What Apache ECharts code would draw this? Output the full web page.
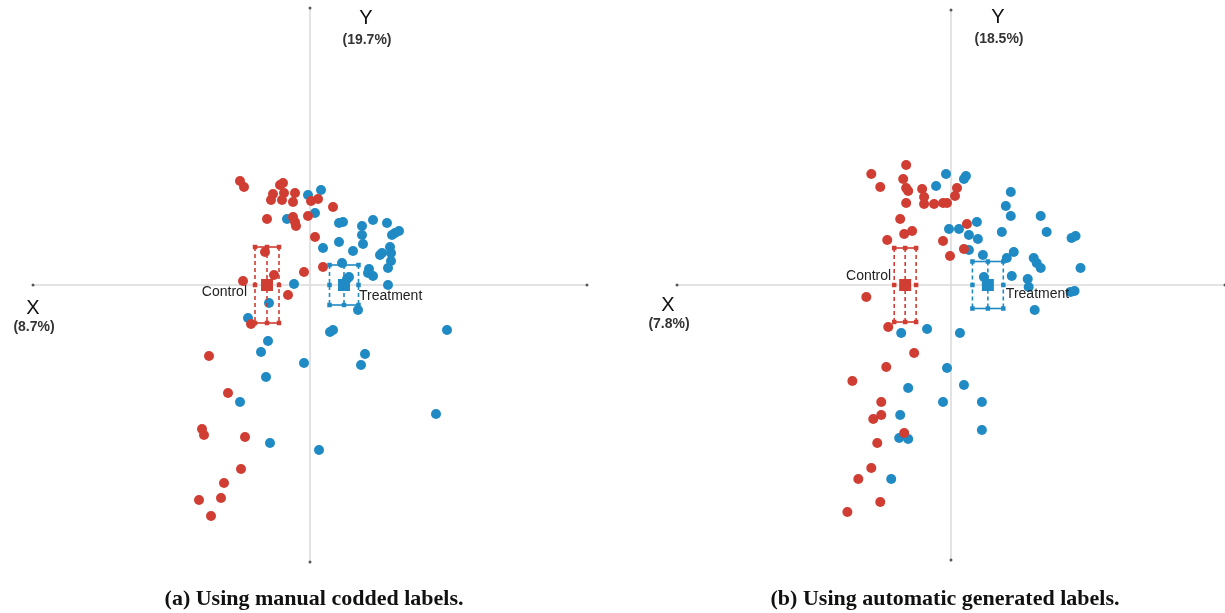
<!DOCTYPE html>
<html>
<head>
<meta charset="utf-8">
<script src="https://cdn.jsdelivr.net/npm/echarts@6/dist/echarts.min.js"></script>
<style>
html,body{margin:0;padding:0;background:#fff;}
#chart{width:1225px;height:613px;}
</style>
</head>
<body>
<div id="chart"></div>
<script>
// ---- Data (component scores) ----
const groupNames = ['Control', 'Treatment'];

// Panel (a): manual coded labels
const controlA = [
  [-0.70,1.04],[-0.66,0.98],[-0.30,1.00],[-0.37,0.91],[-0.26,0.92],[-0.15,0.92],
  [-0.39,0.85],[-0.28,0.85],[-0.17,0.83],[0.01,0.84],[0.08,0.86],[0.23,0.78],
  [-0.43,0.66],[-0.17,0.68],[-0.15,0.63],[-0.14,0.59],[-0.02,0.69],[0.05,0.48],
  [-0.45,0.33],[0.13,0.18],[-0.06,0.13],[-0.36,0.10],[-0.67,0.04],[-0.22,-0.10],
  [-0.59,-0.39],[-1.01,-0.71],[-0.82,-1.08],[-1.08,-1.44],[-1.06,-1.50],[-0.65,-1.52],
  [-0.69,-1.84],[-0.86,-1.98],[-1.11,-2.15],[-0.89,-2.13],[-0.99,-2.31],[-0.27,1.02]
];
const treatmentA = [
  [-0.02,0.90],[0.11,0.95],[0.05,0.72],[-0.23,0.66],[0.29,0.62],[0.33,0.63],
  [0.52,0.59],[0.63,0.65],[0.77,0.62],[0.52,0.50],[0.53,0.41],[0.82,0.50],
  [0.85,0.52],[0.89,0.54],[0.13,0.37],[0.29,0.43],[0.43,0.34],[0.70,0.30],
  [0.72,0.32],[0.80,0.38],[0.81,0.32],[0.81,0.24],[0.78,0.17],[0.32,0.22],
  [0.59,0.16],[0.58,0.12],[0.63,0.09],[0.37,0.06],[0.39,0.08],[0.78,0.00],
  [-0.16,0.01],[-0.41,-0.18],[-0.62,-0.33],[0.48,-0.25],[0.20,-0.47],[0.23,-0.45],
  [1.37,-0.45],[-0.42,-0.56],[-0.49,-0.67],[-0.06,-0.78],[-0.44,-0.92],[0.55,-0.69],
  [0.51,-0.80],[-0.70,-1.17],[1.26,-1.29],[-0.40,-1.58],[0.09,-1.65]
];
// centroid [x, y, halfWidthX, halfWidthY]
const centroidsA = [[-0.43, 0.00, 0.12, 0.38], [0.34, 0.00, 0.145, 0.20]];
const axisNamesA = ['X', '(8.7%)', 'Y', '(19.7%)'];

// Panel (b): automatic generated labels
const controlB = [
  [-0.45,1.20],[-0.80,1.11],[-0.71,0.98],[-0.48,1.06],[-0.45,0.97],[-0.43,0.94],
  [-0.29,0.96],[-0.27,0.88],[-0.45,0.82],[-0.27,0.81],[-0.17,0.81],[-0.08,0.82],
  [-0.04,0.82],[0.04,0.89],[0.06,0.97],[-0.51,0.66],[-0.39,0.54],[-0.47,0.51],
  [-0.64,0.45],[-0.08,0.44],[0.16,0.61],[0.13,0.36],[-0.01,0.29],[-0.85,-0.12],
  [-0.63,-0.42],[-0.37,-0.68],[-0.65,-0.82],[-0.99,-0.96],[-0.70,-1.17],[-0.70,-1.30],
  [-0.78,-1.34],[-0.47,-1.48],[-0.74,-1.58],[-0.80,-1.83],[-0.93,-1.94],[-0.71,-2.17],
  [-1.04,-2.27]
];
const treatmentB = [
  [-0.05,1.11],[-0.15,0.99],[0.13,1.06],[0.15,1.09],[0.60,0.93],[0.55,0.79],
  [0.60,0.69],[0.90,0.69],[0.96,0.53],[1.21,0.47],[1.25,0.49],[0.26,0.63],
  [-0.02,0.56],[0.08,0.56],[0.18,0.50],[0.27,0.46],[0.51,0.53],[0.18,0.35],
  [0.32,0.30],[0.63,0.33],[0.56,0.27],[0.83,0.27],[0.86,0.22],[0.90,0.17],
  [1.30,0.17],[0.61,0.09],[0.77,0.06],[0.78,-0.02],[0.33,0.08],[1.20,-0.07],
  [1.24,-0.06],[0.84,-0.25],[-0.50,-0.48],[-0.24,-0.44],[0.09,-0.48],[-0.04,-0.83],
  [0.13,-1.00],[-0.43,-1.03],[-0.08,-1.17],[0.31,-1.17],[-0.51,-1.30],[0.31,-1.45],
  [-0.52,-1.53],[-0.43,-1.54],[-0.60,-1.94]
];
const centroidsB = [[-0.46, 0.00, 0.11, 0.37], [0.37, 0.00, 0.155, 0.235]];
const axisNamesB = ['X', '(7.8%)', 'Y', '(18.5%)'];

const captions = ['(a) Using manual codded labels.', '(b) Using automatic generated labels.'];

// ---- Styling ----
const RED = '#d03d33';
const BLUE = '#1f8ac3';
const EXT_A = 2.77, EXT_B = 2.75;

function axisEnds(ext) {
  return [[-ext, 0], [ext, 0], [0, -ext], [0, ext]];
}

function makeAxis(gridIndex, ext) {
  return {
    type: 'value', gridIndex: gridIndex, min: -ext, max: ext,
    axisLine: { show: true, onZero: true, lineStyle: { color: '#dadada', width: 1.5 } },
    axisTick: { show: false }, axisLabel: { show: false }, splitLine: { show: false }
  };
}

// label offsets per group for each panel (styling, not data)
const labelCfgA = [{ align: 'right', dx: -20, dy: 7 }, { align: 'left', dx: 15, dy: 11 }];
const labelCfgB = [{ align: 'right', dx: -14, dy: -9 }, { align: 'left', dx: 18, dy: 9 }];
const colors = [RED, BLUE];

function glyphSeries(xi, data, labelCfg) {
  return {
    type: 'custom', xAxisIndex: xi, yAxisIndex: xi, z: 5, silent: true, clip: false,
    data: data,
    renderItem: function (params, api) {
      const i = params.dataIndex;
      const col = colors[i];
      const x = api.value(0), y = api.value(1), hx = api.value(2), hy = api.value(3);
      const c = api.coord([x, y]);
      const l = api.coord([x - hx, y])[0], r = api.coord([x + hx, y])[0];
      const t = api.coord([x, y + hy])[1], b = api.coord([x, y - hy])[1];
      const dash = { stroke: col, lineWidth: 1.6, lineDash: [4, 3] };
      const solid = { stroke: col, lineWidth: 1.6 };
      const ch = [];
      ch.push({ type: 'line', shape: { x1: l, y1: t, x2: l, y2: b }, style: dash });
      ch.push({ type: 'line', shape: { x1: r, y1: t, x2: r, y2: b }, style: dash });
      ch.push({ type: 'line', shape: { x1: c[0], y1: t, x2: c[0], y2: b }, style: dash });
      ch.push({ type: 'line', shape: { x1: l, y1: t, x2: r, y2: t }, style: solid });
      ch.push({ type: 'line', shape: { x1: l, y1: b, x2: r, y2: b }, style: solid });
      const s = 4.5;
      [[l, t], [c[0], t], [r, t], [l, c[1]], [r, c[1]], [l, b], [c[0], b], [r, b]].forEach(function (p) {
        ch.push({ type: 'rect', shape: { x: p[0] - s / 2, y: p[1] - s / 2, width: s, height: s }, style: { fill: col } });
      });
      const S = 12;
      ch.push({ type: 'rect', shape: { x: c[0] - S / 2, y: c[1] - S / 2, width: S, height: S }, style: { fill: col } });
      const lc = labelCfg[i];
      ch.push({
        type: 'text', x: c[0] + lc.dx, y: c[1] + lc.dy,
        style: { text: groupNames[i], fill: '#222', font: '14px "Liberation Sans", Arial, sans-serif', align: lc.align, verticalAlign: 'middle' }
      });
      return { type: 'group', children: ch };
    }
  };
}

function pointSeries(xi, data, color, name) {
  return {
    type: 'scatter', name: name, xAxisIndex: xi, yAxisIndex: xi, data: data,
    symbol: 'circle', symbolSize: 10, itemStyle: { color: color, opacity: 1 }, silent: true, z: 3
  };
}

function endSeries(xi, ext) {
  return {
    type: 'scatter', xAxisIndex: xi, yAxisIndex: xi, data: axisEnds(ext), clip: false,
    symbol: 'circle', symbolSize: 3, itemStyle: { color: '#333' }, silent: true, z: 2
  };
}

const nameFont = '"Liberation Sans", Arial, sans-serif';
function axisNameGraphics(names, yPos, xPos) {
  return [
    { type: 'text', x: xPos[0], y: xPos[1], style: { text: names[0], font: '20px ' + nameFont, fill: '#111', align: 'center', verticalAlign: 'middle' } },
    { type: 'text', x: xPos[0] + 1, y: xPos[1] + 19, style: { text: names[1], font: 'bold 14px ' + nameFont, fill: '#333', align: 'center', verticalAlign: 'middle' } },
    { type: 'text', x: yPos[0], y: yPos[1], style: { text: names[2], font: '20px ' + nameFont, fill: '#111', align: 'center', verticalAlign: 'middle' } },
    { type: 'text', x: yPos[0] + 1, y: yPos[1] + 22, style: { text: names[3], font: 'bold 14px ' + nameFont, fill: '#333', align: 'center', verticalAlign: 'middle' } }
  ];
}

const captionStyle = { fontFamily: '"Liberation Serif", "DejaVu Serif", serif', fontWeight: 'bold', fontSize: 22, color: '#111' };

const option = {
  animation: false,
  backgroundColor: '#fff',
  title: [
    { text: captions[0], left: 309, top: 583, textAlign: 'center', textStyle: captionStyle },
    { text: captions[1], left: 940, top: 583, textAlign: 'center', textStyle: captionStyle }
  ],
  grid: [
    { left: 33, top: 8, width: 554, height: 554 },
    { left: 677, top: 10, width: 550, height: 550 }
  ],
  xAxis: [makeAxis(0, EXT_A), makeAxis(1, EXT_B)],
  yAxis: [makeAxis(0, EXT_A), makeAxis(1, EXT_B)],
  graphic: axisNameGraphics(axisNamesA, [366, 18], [33, 308])
    .concat(axisNameGraphics(axisNamesB, [998, 17], [668, 305])),
  series: [
    endSeries(0, EXT_A),
    pointSeries(0, treatmentA, BLUE, 'Treatment'),
    pointSeries(0, controlA, RED, 'Control'),
    glyphSeries(0, centroidsA, labelCfgA),
    endSeries(1, EXT_B),
    pointSeries(1, treatmentB, BLUE, 'Treatment'),
    pointSeries(1, controlB, RED, 'Control'),
    glyphSeries(1, centroidsB, labelCfgB)
  ]
};

const chart = echarts.init(document.getElementById('chart'), null, { renderer: 'canvas' });
chart.setOption(option);
</script>
</body>
</html>
